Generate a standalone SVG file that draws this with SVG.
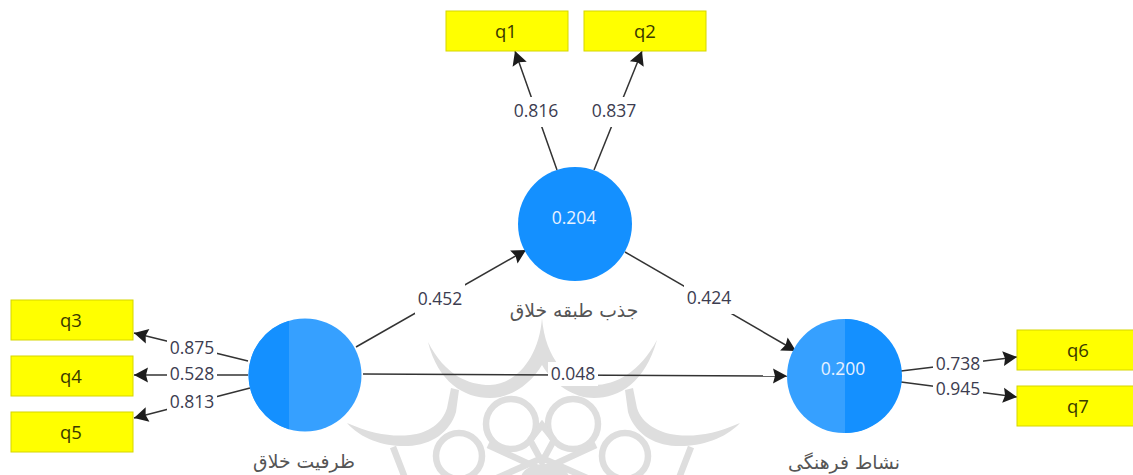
<svg xmlns="http://www.w3.org/2000/svg" width="1133" height="475" viewBox="0 0 1133 475">
<defs>
<marker id="a" markerUnits="userSpaceOnUse" markerWidth="20" markerHeight="20" refX="15" refY="10" orient="auto"><path d="M1 2.5 L15 10 L1 17.5 L3 10 Z" fill="#1c1c1c"/></marker>
<clipPath id="wc"><rect x="330" y="300" width="430" height="175"/></clipPath>
</defs>
<style>
text{font-family:"Open Sans","Noto Sans","DejaVu Sans",sans-serif}
.box{fill:#ffff00;stroke:#d6d600;stroke-width:1}
.t{font-size:17.5px;fill:#3c3c50;text-anchor:middle}
.q{font-size:18.5px;fill:#3a3a00;text-anchor:middle}
.fa{font-size:18.8px;fill:#555;text-anchor:middle;font-family:"DejaVu Sans","Noto Sans",sans-serif}
.n{font-size:17.5px;fill:#e8f2ff;text-anchor:middle}
.l{stroke:#333;stroke-width:1.5;fill:none}
.ar{marker-end:url(#a)}
.w{fill:none;stroke:#dedede;stroke-width:6.5}
.wf{fill:#dedede}
</style>
<rect width="1133" height="475" fill="#fff"/>
<g id="watermark" clip-path="url(#wc)">
<path class="wf" d="M428 342 C445 375 468 385 490 385 C516 384 539 358 542 318 C545 358 568 384 594 385 C616 385 640 372 657 340 C645 382 620 398 594 398 C574 398 554 385 542 365 C530 385 510 398 490 398 C464 398 438 382 428 342 Z"/>
<path class="wf" d="M347 423 C372 434 392 437 410 435 C428 433 442 424 447 408 L451 388 L459 390 L456 412 C450 432 432 445 408 446 C386 447 362 440 347 423 Z"/>
<path class="wf" d="M740 423 C715 434 695 437 677 435 C659 433 642 424 637 408 L633 388 L625 390 L628 412 C634 432 652 445 676 446 C698 447 724 440 740 423 Z"/>
<circle class="w" cx="511" cy="424" r="25"/>
<circle class="w" cx="573" cy="424" r="25"/>
<circle class="w" cx="459" cy="456" r="23"/>
<circle class="w" cx="625" cy="456" r="23"/>
<path class="w" d="M393 447 L405 478 M691 447 L679 478 M488 445 L542 470 L596 445 M497 478 L542 458 L587 478 M530 440 L542 425 L554 440 M530 440 L542 462 L554 440"/>
<ellipse class="wf" cx="545" cy="478" rx="24" ry="14"/>
</g>
<g id="connectors">
<line class="l ar" x1="248" y1="361" x2="134" y2="333"/>
<line class="l ar" x1="248" y1="375" x2="134" y2="375"/>
<line class="l ar" x1="250" y1="388" x2="134" y2="418"/>
<line class="l ar" x1="557" y1="170" x2="515" y2="51"/>
<line class="l ar" x1="594" y1="170" x2="642" y2="51"/>
<line class="l ar" x1="356" y1="347" x2="526" y2="250"/>
<line class="l ar" x1="625" y1="252" x2="796" y2="351"/>
<line class="l ar" x1="363" y1="374" x2="787" y2="376"/>
<line class="l ar" x1="901" y1="371" x2="1017" y2="357"/>
<line class="l ar" x1="901" y1="382" x2="1017" y2="397"/>
</g>
<g id="labels">
<rect x="167" y="337" width="50" height="22" fill="#fff"/><text class="t" x="192" y="354">0.875</text>
<rect x="167" y="364" width="50" height="22" fill="#fff"/><text class="t" x="192" y="380">0.528</text>
<rect x="167" y="390" width="50" height="22" fill="#fff"/><text class="t" x="192" y="408">0.813</text>
<rect x="511" y="97" width="50" height="30" fill="#fff"/><text class="t" x="536" y="117">0.816</text>
<rect x="589" y="97" width="50" height="30" fill="#fff"/><text class="t" x="614" y="117">0.837</text>
<rect x="415" y="284" width="50" height="30" fill="#fff"/><text class="t" x="440" y="305">0.452</text>
<rect x="684" y="284" width="50" height="30" fill="#fff"/><text class="t" x="709" y="304">0.424</text>
<rect x="548" y="362" width="50" height="24" fill="#fff"/><text class="t" x="573" y="380">0.048</text>
<rect x="933" y="352" width="50" height="22" fill="#fff"/><text class="t" x="958" y="370">0.738</text>
<rect x="933" y="378" width="50" height="22" fill="#fff"/><text class="t" x="958" y="395">0.945</text>
</g>
<g id="n1"><rect class="box" x="446" y="11" width="122" height="40"/><text class="q" x="506" y="38">q1</text></g>
<g id="n2"><rect class="box" x="584" y="11" width="122" height="40"/><text class="q" x="645" y="38">q2</text></g>
<g id="n3"><rect class="box" x="11" y="300" width="122" height="40"/><text class="q" x="71" y="327">q3</text></g>
<g id="n4"><rect class="box" x="11" y="356" width="122" height="40"/><text class="q" x="71" y="383">q4</text></g>
<g id="n5"><rect class="box" x="11" y="412" width="122" height="40"/><text class="q" x="71" y="439">q5</text></g>
<g id="n6"><rect class="box" x="1017" y="330" width="122" height="40"/><text class="q" x="1078" y="357">q6</text></g>
<g id="n7"><rect class="box" x="1017" y="386" width="122" height="40"/><text class="q" x="1078" y="413">q7</text></g>
<g id="top"><circle cx="575" cy="224" r="57" fill="#1490ff"/><text class="n" x="574" y="224">0.204</text><text class="fa" x="574" y="317" direction="rtl">جذب طبقه خلاق</text></g>
<g id="left"><circle cx="305" cy="375" r="56.5" fill="#36a0ff"/><path d="M289 320.8 A56.5 56.5 0 0 0 289 429.2 Z" fill="#1490ff"/><text class="fa" x="304" y="468" direction="rtl">ظرفیت خلاق</text></g>
<g id="right"><circle cx="844" cy="376" r="57" fill="#36a0ff"/><path d="M845 319 A57 57 0 0 1 845 433 Z" fill="#1490ff"/><text class="n" x="843" y="375">0.200</text><text class="fa" x="844" y="469" direction="rtl">نشاط فرهنگی</text></g>
</svg>
